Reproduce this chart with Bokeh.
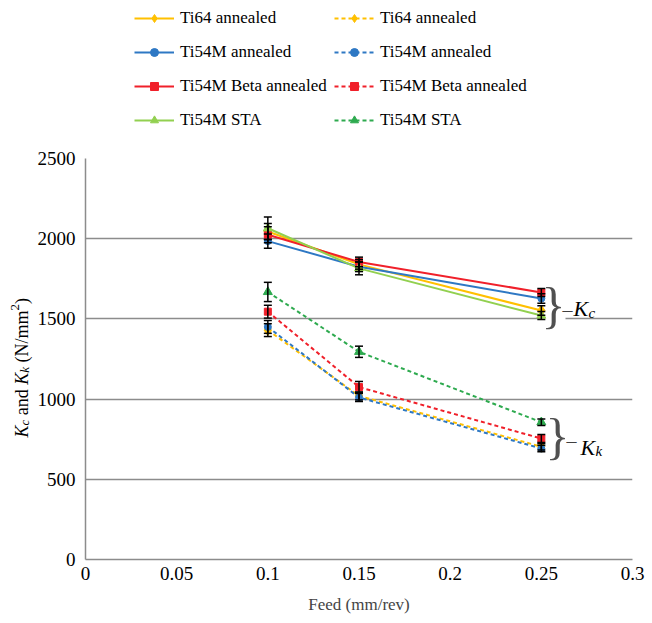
from bokeh.plotting import figure
from bokeh.layouts import row, column
from bokeh.models import (ColumnDataSource, Whisker, TeeHead, Legend, LegendItem,
                          Label, Range1d, FixedTicker)
from bokeh.embed import file_html
from bokeh.resources import INLINE

# ---------------- data ----------------
feed = [0.1, 0.15, 0.25]
series_names = ["Ti64 annealed", "Ti54M annealed", "Ti54M Beta annealed", "Ti54M STA"]

kc_ti64 = [2045, 1840, 1552]
kc_ti54m = [1985, 1825, 1627]
kc_beta = [2025, 1855, 1665]
kc_sta = [2065, 1815, 1521]

kk_ti64 = [1430, 1020, 703]
kk_ti54m = [1450, 1010, 692]
kk_beta = [1545, 1075, 754]
kk_sta = [1668, 1295, 856]

kc_err_ti64 = [50, 30, 30]
kc_err_ti54m = [45, 30, 30]
kc_err_beta = [50, 30, 25]
kc_err_sta = [70, 40, 25]

kk_err_ti64 = [40, 25, 20]
kk_err_ti54m = [40, 25, 20]
kk_err_beta = [40, 35, 25]
kk_err_sta = [60, 35, 20]

x_ticks = [0, 0.05, 0.1, 0.15, 0.2, 0.25, 0.3]
x_tick_labels = ["0", "0.05", "0.1", "0.15", "0.2", "0.25", "0.3"]
y_ticks = [0, 500, 1000, 1500, 2000, 2500]

# ---------------- styles ----------------
solid_colors = ["#FFC000", "#2E78C4", "#F0202A", "#92D050"]
dashed_colors = ["#FFC000", "#2E78C4", "#F0202A", "#2EAA4F"]
markers = ["diamond", "circle", "square", "triangle"]
marker_sizes = [11, 7, 7, 9]
legend_marker_sizes = [8, 5, 6, 7]
SERIF = "Liberation Serif"
GRID = "#8c8c8c"
TOP_H = 140      # height of the legend strip
MAIN_H = 481     # height of the main figure
H = TOP_H + MAIN_H
LW = 34          # width of the left strip (y-axis title)
W = 611          # width of the main figure

def bare(fig):
    fig.axis.visible = False
    fig.grid.visible = False
    fig.outline_line_color = None

# left strip holding the rotated y-axis title
p0 = figure(width=LW, height=H, x_range=Range1d(0, 1), y_range=Range1d(0, 1),
            output_backend="svg", toolbar_location=None, min_border=0)
bare(p0)

# top strip holding the legend (its frame is aligned with the main frame)
pt = figure(width=W, height=TOP_H, x_range=Range1d(0, 1), y_range=Range1d(0, 1),
            output_backend="svg", toolbar_location=None, min_border=0)
bare(pt)

p = figure(width=W, height=MAIN_H, x_range=Range1d(0, 0.3), y_range=Range1d(0, 2500),
           output_backend="svg", toolbar_location=None,
           min_border_left=49, min_border_right=13, min_border_top=18,
           min_border_bottom=62)
p.outline_line_color = None
p.background_fill_color = "white"

# axes
p.xaxis.ticker = FixedTicker(ticks=x_ticks)
p.xaxis.major_label_overrides = {t: l for t, l in zip(x_ticks, x_tick_labels)}
p.yaxis.ticker = FixedTicker(ticks=y_ticks)
for ax in (p.xaxis, p.yaxis):
    ax.axis_line_color = GRID
    ax.axis_line_width = 1.5
    ax.major_tick_line_color = None
    ax.minor_tick_line_color = None
    ax.major_tick_out = 0
    ax.major_tick_in = 0
    ax.major_label_text_font = SERIF
    ax.major_label_text_font_size = "19px"
    ax.major_label_text_color = "black"
p.yaxis.major_label_standoff = 10
p.xaxis.major_label_standoff = 7
p.xaxis.axis_label = "Feed (mm/rev)"
p.xaxis.axis_label_text_font = SERIF
p.xaxis.axis_label_text_font_style = "normal"
p.xaxis.axis_label_text_font_size = "17px"
p.xaxis.axis_label_standoff = 12

p.xgrid.grid_line_color = None
p.ygrid.ticker = FixedTicker(ticks=y_ticks)
p.ygrid.grid_line_color = GRID
p.ygrid.grid_line_width = 1.5

kc_sets = [kc_ti64, kc_ti54m, kc_beta, kc_sta]
kk_sets = [kk_ti64, kk_ti54m, kk_beta, kk_sta]
kc_errs = [kc_err_ti64, kc_err_ti54m, kc_err_beta, kc_err_sta]
kk_errs = [kk_err_ti64, kk_err_ti54m, kk_err_beta, kk_err_sta]

solid_items = []
dashed_items = []

def add_series(vals, errs, color, marker, msize, lsize, dash, name, items):
    src = ColumnDataSource(dict(x=feed, y=vals,
                                upper=[v + e for v, e in zip(vals, errs)],
                                lower=[v - e for v, e in zip(vals, errs)]))
    p.line("x", "y", source=src, line_color=color, line_width=2, line_dash=dash)
    p.scatter("x", "y", source=src, marker=marker, size=msize,
              fill_color=color, line_color=color)
    w = Whisker(base="x", upper="upper", lower="lower", source=src, dimension="height",
                line_color="black", line_width=1.5, level="annotation",
                upper_head=TeeHead(size=8, line_color="black", line_width=1.5),
                lower_head=TeeHead(size=8, line_color="black", line_width=1.5))
    p.add_layout(w)
    # legend proxies in the top strip: same data, but outside that strip's y range
    lr = pt.line("x", "y", source=src, line_color=color, line_width=2, line_dash=dash)
    sr = pt.scatter("x", "y", source=src, marker=marker, size=lsize,
                    fill_color=color, line_color=color)
    items.append(LegendItem(label=name, renderers=[lr, sr]))

for i in range(4):
    add_series(kc_sets[i], kc_errs[i], solid_colors[i], markers[i], marker_sizes[i],
               legend_marker_sizes[i], "solid", series_names[i], solid_items)
for i in range(4):
    add_series(kk_sets[i], kk_errs[i], dashed_colors[i], markers[i], marker_sizes[i],
               legend_marker_sizes[i], "4 3", series_names[i], dashed_items)

def make_legend(items, loc):
    lg = Legend(items=items, location=loc, orientation="vertical",
                label_text_font=SERIF, label_text_font_size="17px",
                label_text_color="black", glyph_width=40, glyph_height=20,
                label_height=20, spacing=14, label_standoff=6, padding=0, margin=0,
                border_line_color=None, background_fill_alpha=0)
    pt.add_layout(lg)

# location = (left of legend, bottom of legend) measured from the strip frame's bottom-left
make_legend(solid_items, (49, 10))
make_legend(dashed_items, (249, 10))

# ---------------- annotations (screen units, relative to a frame) ----------------
def lab(fig, text, sx, sy, size, style="normal", angle=0.0, align="left",
        baseline="alphabetic", bg=None, level="annotation", color="black"):
    l = Label(x=sx, y=sy, x_units="screen", y_units="screen", text=text, angle=angle,
              text_font=SERIF, text_font_size=f"{size}px", text_font_style=style,
              text_align=align, text_baseline=baseline, text_color=color, level=level)
    if bg:
        l.background_fill_color = bg
    fig.add_layout(l)

# braces and K labels
lab(p, "}", 468, 255, 50, align="center", baseline="middle", bg="white", level="underlay", color="#505050")
lab(p, "\u2013", 482, 250, 20, align="center", baseline="middle", color="#404040")
lab(p, "K", 488, 251, 22, style="italic")
lab(p, "c", 503, 247, 15, style="italic")

lab(p, "}", 472, 124, 50, align="center", baseline="middle", bg="white", level="underlay", color="#505050")
lab(p, "\u2013", 486, 119, 20, align="center", baseline="middle", color="#404040")
lab(p, "K", 495, 112, 22, style="italic")
lab(p, "k", 510, 109, 15, style="italic")

# rotated y-axis title: K_c and K_k (N/mm^2)
A = 1.5707963267948966
NB = "\u00a0"
lab(p0, "K", 21, 184, 18, style="italic", angle=A)
lab(p0, "c", 24, 196, 13, style="italic", angle=A)
lab(p0, NB + "and" + NB, 21, 201.8, 18, angle=A)
lab(p0, "K", 21, 236.8, 18, style="italic", angle=A)
lab(p0, "k", 24, 248.8, 13, style="italic", angle=A)
lab(p0, NB + "(N/mm", 21, 254.6, 18, angle=A)
lab(p0, "2", 14.5, 311.1, 13, angle=A)
lab(p0, ")", 21, 317.6, 18, angle=A)

layout = row(p0, column(pt, p))
open("out.html", "w").write(file_html(layout, INLINE))
